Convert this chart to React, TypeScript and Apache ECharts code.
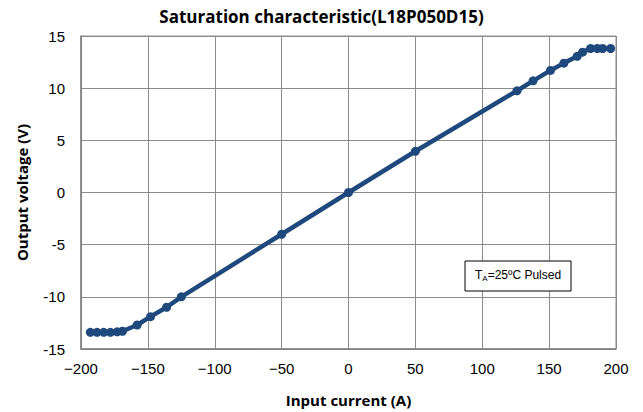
import React, { useEffect, useRef } from "react";
import * as echarts from "echarts";

const title = "Saturation characteristic(L18P050D15)";
const xName = "Input current (A)";
const yName = "Output voltage (V)";
const currentA = [-193, -188, -183, -178, -173, -169, -158, -148, -136, -125, -50, 0, 50, 126, 138, 151, 161, 171, 175, 181, 186, 190, 196];
const voltageV = [-13.4, -13.4, -13.4, -13.4, -13.35, -13.3, -12.7, -11.9, -11.0, -10.0, -4.0, 0, 3.95, 9.75, 10.7, 11.7, 12.4, 13.05, 13.45, 13.8, 13.8, 13.8, 13.8];
const noteMain = "T";
const noteSub = "A";
const noteRest = "=25ºC Pulsed";

export default function App() {
  const ref = useRef<HTMLDivElement>(null);
  useEffect(() => {
    const chart = echarts.init(ref.current!, null, { renderer: "svg" });
    const data = currentA.map((x, i) => [x, voltageV[i]]);
    chart.setOption({
      animation: false,
      backgroundColor: "#ffffff",
      title: {
        text: title,
        left: "center",
        top: 3,
        textStyle: { fontFamily: "Open Sans", fontWeight: "bold", fontSize: 17, color: "#000" },
      },
      grid: { left: 81, right: 27, top: 36, bottom: 62, show: true, borderColor: "#8c8c8c", borderWidth: 1 },
      xAxis: {
        type: "value",
        min: -200,
        max: 200,
        interval: 50,
        name: xName,
        nameLocation: "middle",
        nameGap: 43,
        nameTextStyle: { fontFamily: "Open Sans", fontWeight: "bold", fontSize: 15, color: "#000" },
        axisLine: { show: true, onZero: false, lineStyle: { color: "#7f7f7f", width: 1.5 } },
        axisTick: { show: false },
        axisLabel: {
          fontFamily: "Liberation Sans",
          fontSize: 15,
          color: "#000",
          margin: 12,
          formatter: (v: number) => (v < 0 ? "\u2212" + Math.abs(v) : String(v)),
        },
        splitLine: { show: true, lineStyle: { color: "#8c8c8c", width: 1 } },
      },
      yAxis: {
        type: "value",
        min: -15,
        max: 15,
        interval: 5,
        name: yName,
        nameLocation: "middle",
        nameGap: 52,
        nameTextStyle: { fontFamily: "Open Sans", fontWeight: "bold", fontSize: 15, color: "#000" },
        axisLine: { show: true, onZero: false, lineStyle: { color: "#7f7f7f", width: 1.5 } },
        axisTick: { show: false },
        axisLabel: { fontFamily: "Liberation Sans", fontSize: 15, color: "#000", margin: 16 },
        splitLine: { show: true, lineStyle: { color: "#8c8c8c", width: 1 } },
      },
      series: [
        {
          type: "line",
          data,
          symbol: "circle",
          symbolSize: 9,
          lineStyle: { color: "#1f497d", width: 4.5 },
          itemStyle: { color: "#1f497d" },
        },
      ],
      graphic: [
        {
          type: "rect",
          shape: { x: 465, y: 261, width: 106, height: 30 },
          style: { fill: "#fff", stroke: "#000", lineWidth: 1 },
          z: 10,
        },
        {
          type: "text",
          x: 475,
          y: 268,
          z: 11,
          style: {
            text: `{m|${noteMain}}{s|${noteSub}}{m|${noteRest}}`,
            rich: {
              m: { fontFamily: "Liberation Sans", fontSize: 12, color: "#000" },
              s: { fontFamily: "Liberation Sans", fontSize: 8, color: "#000", padding: [6, 0, 0, 0] },
            },
          },
        },
      ],
    });
    return () => chart.dispose();
  }, []);
  return <div ref={ref} style={{ width: 643, height: 412, position: "absolute", left: 0, top: 0 }} />;
}
